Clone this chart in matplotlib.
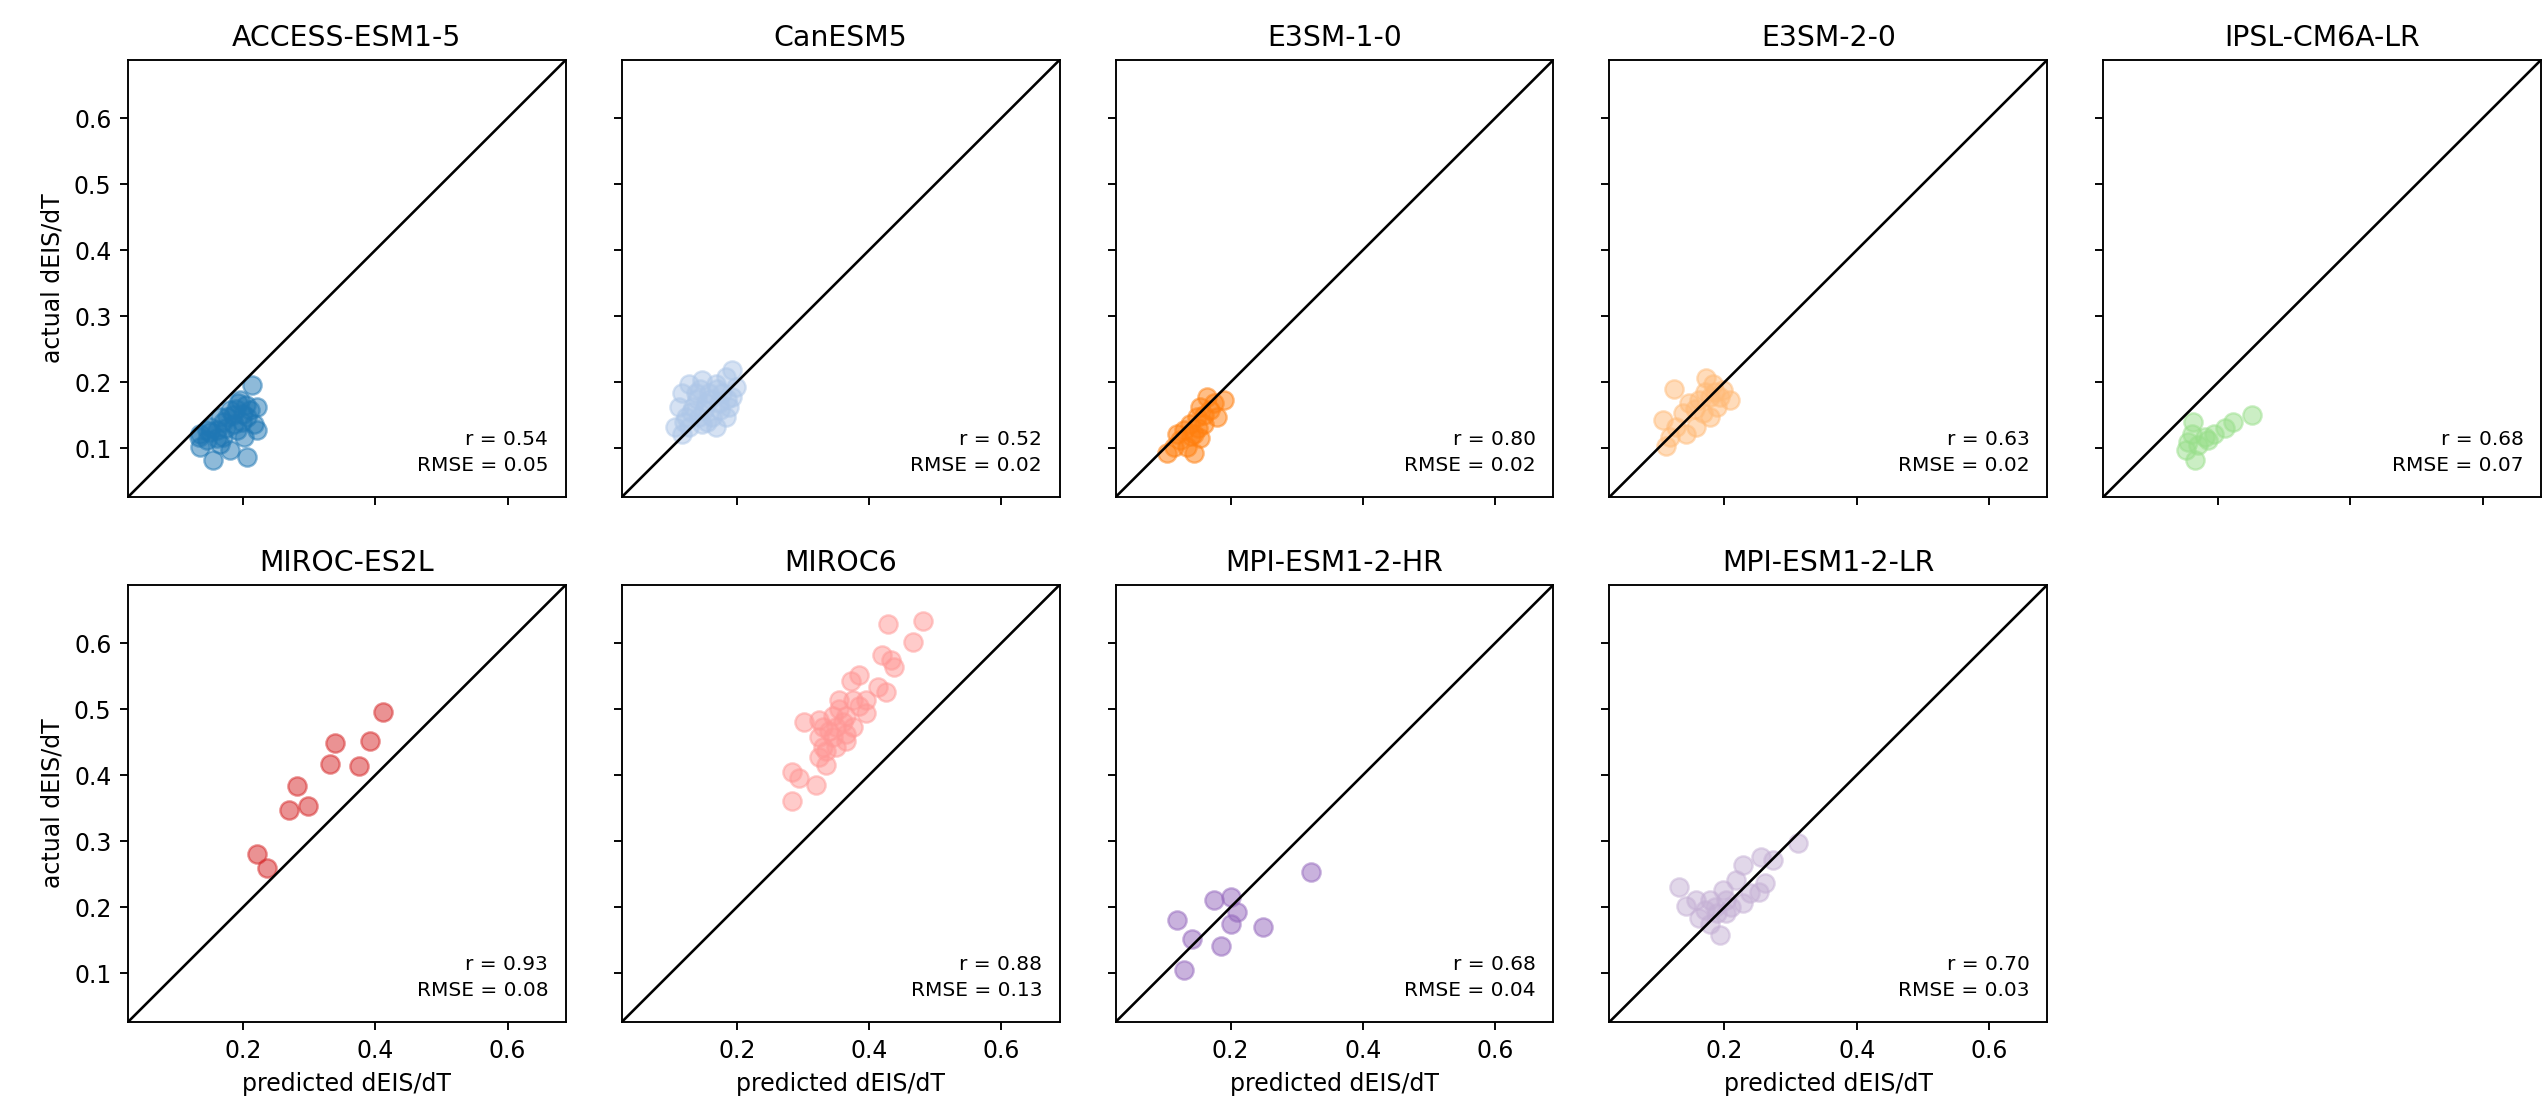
import matplotlib
matplotlib.use("Agg")
import matplotlib.pyplot as plt
import numpy as np

models = ["ACCESS-ESM1-5", "CanESM5", "E3SM-1-0", "E3SM-2-0", "IPSL-CM6A-LR",
          "MIROC-ES2L", "MIROC6", "MPI-ESM1-2-HR", "MPI-ESM1-2-LR"]
colors = ["#1f77b4", "#aec7e8", "#ff7f0e", "#ffbb78", "#98df8a",
          "#d62728", "#ff9896", "#9467bd", "#c5b0d5"]
r_values = [0.54, 0.52, 0.80, 0.63, 0.68, 0.93, 0.88, 0.68, 0.70]
rmse_values = [0.05, 0.02, 0.02, 0.02, 0.07, 0.08, 0.13, 0.04, 0.03]

pred_access = [0.213, 0.221, 0.196, 0.181, 0.206, 0.221, 0.165, 0.150, 0.135, 0.135, 0.155, 0.206,
               0.181, 0.170, 0.191, 0.201, 0.145, 0.165, 0.186, 0.216, 0.160, 0.176, 0.133, 0.193, 0.211,
               0.185, 0.198, 0.175, 0.160, 0.150, 0.190, 0.205, 0.170, 0.145, 0.200]
act_access = [0.195, 0.163, 0.173, 0.158, 0.147, 0.127, 0.147, 0.132, 0.122, 0.102, 0.082, 0.087,
              0.097, 0.117, 0.127, 0.117, 0.112, 0.107, 0.137, 0.137, 0.127, 0.147, 0.117, 0.168, 0.158,
              0.150, 0.140, 0.130, 0.115, 0.125, 0.160, 0.165, 0.140, 0.128, 0.152]

pred_canesm = [0.193, 0.183, 0.128, 0.148, 0.168, 0.117, 0.138, 0.158, 0.178, 0.193, 0.112, 0.133,
               0.153, 0.173, 0.188, 0.123, 0.143, 0.163, 0.183, 0.107, 0.128, 0.148, 0.117, 0.168, 0.198,
               0.140, 0.160, 0.175, 0.150, 0.130, 0.170, 0.185, 0.120, 0.155, 0.145]
act_canesm = [0.218, 0.208, 0.198, 0.203, 0.198, 0.183, 0.183, 0.183, 0.183, 0.178, 0.163, 0.163,
              0.168, 0.168, 0.163, 0.147, 0.147, 0.147, 0.147, 0.132, 0.132, 0.137, 0.122, 0.132, 0.193,
              0.175, 0.175, 0.158, 0.158, 0.155, 0.190, 0.175, 0.140, 0.140, 0.190]

pred_e3sm1 = [0.190, 0.180, 0.169, 0.154, 0.149, 0.159, 0.139, 0.129, 0.144, 0.154, 0.124, 0.114,
              0.104, 0.144, 0.134, 0.164, 0.175, 0.119, 0.150, 0.140, 0.160]
act_e3sm1 = [0.173, 0.147, 0.158, 0.163, 0.147, 0.137, 0.137, 0.127, 0.122, 0.115, 0.112, 0.102,
             0.092, 0.092, 0.102, 0.178, 0.168, 0.122, 0.130, 0.118, 0.150]

pred_e3sm2 = [0.124, 0.172, 0.183, 0.198, 0.208, 0.178, 0.162, 0.147, 0.188, 0.167, 0.137, 0.107,
              0.157, 0.127, 0.117, 0.112, 0.142, 0.193, 0.178, 0.185, 0.170, 0.155]
act_e3sm2 = [0.190, 0.206, 0.198, 0.188, 0.173, 0.178, 0.173, 0.168, 0.163, 0.153, 0.153, 0.142,
             0.132, 0.132, 0.117, 0.104, 0.122, 0.178, 0.147, 0.185, 0.185, 0.160]

pred_ipsl = [0.251, 0.223, 0.210, 0.193, 0.180, 0.162, 0.160, 0.155, 0.170, 0.165, 0.152, 0.185]
act_ipsl = [0.150, 0.140, 0.130, 0.122, 0.117, 0.140, 0.122, 0.110, 0.105, 0.082, 0.097, 0.112]

pred_miroces2l = [0.411, 0.339, 0.392, 0.332, 0.376, 0.282, 0.269, 0.298, 0.221, 0.237]
act_miroces2l = [0.495, 0.449, 0.452, 0.417, 0.413, 0.384, 0.347, 0.353, 0.281, 0.259]

pred_miroc6 = [0.481, 0.428, 0.466, 0.420, 0.438, 0.433, 0.385, 0.373, 0.413, 0.426, 0.355, 0.375,
               0.385, 0.395, 0.302, 0.325, 0.345, 0.365, 0.330, 0.350, 0.375, 0.325, 0.345, 0.365,
               0.330, 0.350, 0.335, 0.284, 0.294, 0.319, 0.284, 0.395, 0.325, 0.340, 0.360, 0.355,
               0.335, 0.365]
act_miroc6 = [0.634, 0.629, 0.601, 0.582, 0.564, 0.574, 0.552, 0.542, 0.534, 0.526, 0.514, 0.514,
              0.504, 0.494, 0.480, 0.484, 0.489, 0.489, 0.473, 0.473, 0.473, 0.458, 0.458, 0.451,
              0.443, 0.443, 0.415, 0.405, 0.395, 0.385, 0.361, 0.514, 0.428, 0.466, 0.480, 0.500,
              0.436, 0.462]

pred_mpihr = [0.321, 0.175, 0.200, 0.210, 0.200, 0.119, 0.142, 0.185, 0.249, 0.129]
act_mpihr = [0.253, 0.211, 0.216, 0.193, 0.175, 0.181, 0.152, 0.141, 0.170, 0.105]

pred_mpilr = [0.311, 0.273, 0.256, 0.228, 0.132, 0.261, 0.253, 0.198, 0.178, 0.203, 0.228, 0.142,
              0.157, 0.162, 0.188, 0.203, 0.193, 0.178, 0.218, 0.238, 0.185, 0.210, 0.170]
act_mpilr = [0.297, 0.271, 0.276, 0.264, 0.231, 0.236, 0.223, 0.226, 0.211, 0.211, 0.206, 0.201,
             0.211, 0.183, 0.191, 0.191, 0.158, 0.175, 0.241, 0.221, 0.200, 0.200, 0.195]

predicted = [pred_access, pred_canesm, pred_e3sm1, pred_e3sm2, pred_ipsl,
             pred_miroces2l, pred_miroc6, pred_mpihr, pred_mpilr]
actual = [act_access, act_canesm, act_e3sm1, act_e3sm2, act_ipsl,
          act_miroces2l, act_miroc6, act_mpihr, act_mpilr]

lims = (0.026, 0.688)

dpi = 170
fig, axes = plt.subplots(2, 5, figsize=(2544 / dpi, 1115 / dpi), dpi=dpi,
                         sharex=True, sharey=True)
fig.subplots_adjust(left=0.0503, right=0.9988, top=0.9462, bottom=0.0834,
                    wspace=0.128, hspace=0.201)

flat = axes.flatten()
for i, name in enumerate(models):
    ax = flat[i]
    ax.scatter(predicted[i], actual[i], s=60, color=colors[i], alpha=0.5)
    ax.plot(lims, lims, color="black", lw=1.1)
    ax.set_xlim(lims)
    ax.set_ylim(lims)
    ax.set_title(name, fontsize=12)
    ax.text(0.96, 0.05, f"r = {r_values[i]:.2f}\nRMSE = {rmse_values[i]:.2f}",
            transform=ax.transAxes, ha="right", va="bottom", fontsize=8.5,
            linespacing=1.5)

flat[9].set_visible(False)

ax0 = flat[0]
ax0.set_xticks([0.2, 0.4, 0.6])
ax0.set_yticks([0.1, 0.2, 0.3, 0.4, 0.5, 0.6])

for ax in axes[0, :]:
    ax.tick_params(labelbottom=False)
for ax in axes[1, :4]:
    ax.tick_params(labelbottom=True)
    ax.set_xlabel("predicted dEIS/dT", fontsize=10)
for ax in axes[:, 0]:
    ax.set_ylabel("actual dEIS/dT", fontsize=10)

fig.savefig("out.png", dpi=dpi)
